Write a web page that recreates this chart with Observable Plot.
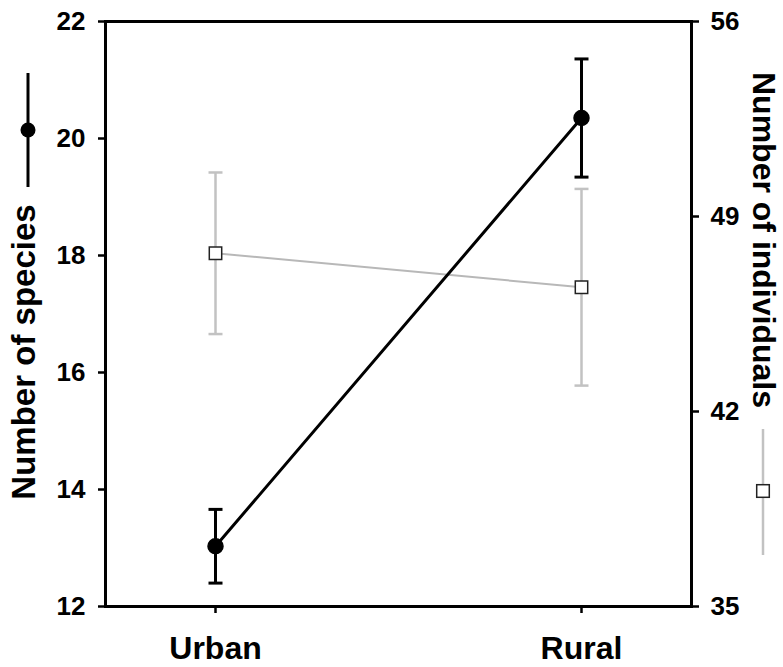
<!DOCTYPE html>
<html><head><meta charset="utf-8">
<script src="https://cdn.jsdelivr.net/npm/d3@7"></script>
<script src="https://cdn.jsdelivr.net/npm/@observablehq/plot@0.6"></script>
<style>body{margin:0;background:#fff} #chart{width:783px;height:667px}</style>
</head><body><div id="chart"></div>
<script>
// ---- data ----
const sites = ["Urban", "Rural"];
const speciesMean = [13.03, 20.35];
const speciesErr = [0.63, 1.01];
const individualsMean = [47.68, 46.46];
const individualsErr = [2.90, 3.53];
const speciesTicks = [12, 14, 16, 18, 20, 22];
const individualsTicks = [35, 42, 49, 56];
const speciesDomain = [12, 22];
const individualsDomain = [35, 56];
const speciesTitle = "Number of species";
const individualsTitle = "Number of individuals";

// map the right-hand (individuals) axis onto the left-hand scale
const toLeft = v => speciesDomain[0] + (v - individualsDomain[0]) *
  (speciesDomain[1] - speciesDomain[0]) / (individualsDomain[1] - individualsDomain[0]);

const species = sites.map((s, i) => ({site: s, mean: speciesMean[i],
  lo: speciesMean[i] - speciesErr[i], hi: speciesMean[i] + speciesErr[i]}));
const individuals = sites.map((s, i) => ({site: s, mean: toLeft(individualsMean[i]),
  lo: toLeft(individualsMean[i] - individualsErr[i]), hi: toLeft(individualsMean[i] + individualsErr[i])}));

const capSymbol = {draw(ctx, size) { const w = Math.sqrt(size / Math.PI); ctx.moveTo(-w, 0); ctx.lineTo(w, 0); }};

const FONT = "'Liberation Sans', Arial, sans-serif";
const BLACK = "#000";
const GREY = "#c2c2c2";

const chart = Plot.plot({
  width: 783, height: 667,
  marginLeft: 105, marginRight: 92, marginTop: 21, marginBottom: 61,
  style: {fontFamily: FONT, fontWeight: "bold", color: "#000", background: "#fff"},
  x: {type: "point", domain: sites, padding: 0.3, label: null},
  y: {domain: speciesDomain, label: null},
  marks: [
    // individuals (grey)
    Plot.ruleX(individuals, {x: "site", y1: "lo", y2: "hi", stroke: GREY, strokeWidth: 2.5}),
    Plot.dot(individuals, {x: "site", y: "lo", symbol: capSymbol, r: 7, stroke: GREY, strokeWidth: 2.5}),
    Plot.dot(individuals, {x: "site", y: "hi", symbol: capSymbol, r: 7, stroke: GREY, strokeWidth: 2.5}),
    Plot.line(individuals, {x: "site", y: "mean", stroke: "#b8b8b8", strokeWidth: 2}),
    Plot.dot(individuals, {x: "site", y: "mean", symbol: "square", r: 7, fill: "white", stroke: "#222", strokeWidth: 1.5}),
    // species (black)
    Plot.ruleX(species, {x: "site", y1: "lo", y2: "hi", stroke: BLACK, strokeWidth: 3}),
    Plot.dot(species, {x: "site", y: "lo", symbol: capSymbol, r: 7, stroke: BLACK, strokeWidth: 3}),
    Plot.dot(species, {x: "site", y: "hi", symbol: capSymbol, r: 7, stroke: BLACK, strokeWidth: 3}),
    Plot.line(species, {x: "site", y: "mean", stroke: BLACK, strokeWidth: 3}),
    Plot.dot(species, {x: "site", y: "mean", symbol: "circle", r: 7.5, fill: BLACK, stroke: BLACK}),
    // axes
    Plot.axisY(speciesTicks, {anchor: "left", tickSize: 7, tickPadding: 13, fontSize: 26, strokeWidth: 2.5, label: null,
      tickFormat: d3.format("d")}),
    Plot.axisY(individualsTicks.map(toLeft), {anchor: "right", tickSize: 7, tickPadding: 12, fontSize: 26, strokeWidth: 2.5, label: null,
      tickFormat: d => individualsTicks.find(t => Math.abs(toLeft(t) - d) < 1e-6)}),
    Plot.axisX({anchor: "bottom", tickSize: 7, tickPadding: 23, fontSize: 32, strokeWidth: 2.5, label: null}),
    Plot.frame({stroke: BLACK, strokeWidth: 3})
  ]
});

const svg = d3.select(chart);
// left title + legend glyph
svg.append("text").attr("transform", "translate(35,352) rotate(-90)")
  .attr("text-anchor", "middle").attr("font-size", 33).attr("font-weight", "bold")
  .attr("font-family", FONT).attr("fill", "#000").text(speciesTitle);
svg.append("line").attr("x1", 28).attr("x2", 28).attr("y1", 73).attr("y2", 187)
  .attr("stroke", "#000").attr("stroke-width", 3);
svg.append("circle").attr("cx", 28).attr("cy", 130).attr("r", 7.5).attr("fill", "#000");
// right title + legend glyph
svg.append("text").attr("transform", "translate(753,240) rotate(90)")
  .attr("text-anchor", "middle").attr("font-size", 32).attr("font-weight", "bold")
  .attr("font-family", FONT).attr("fill", "#000").text(individualsTitle);
svg.append("line").attr("x1", 763).attr("x2", 763).attr("y1", 429).attr("y2", 555)
  .attr("stroke", GREY).attr("stroke-width", 2.5);
svg.append("rect").attr("x", 763 - 6.3).attr("y", 491 - 6.3).attr("width", 12.6).attr("height", 12.6)
  .attr("fill", "white").attr("stroke", "#222").attr("stroke-width", 1.5);

document.getElementById("chart").appendChild(chart);
</script>
</body></html>
